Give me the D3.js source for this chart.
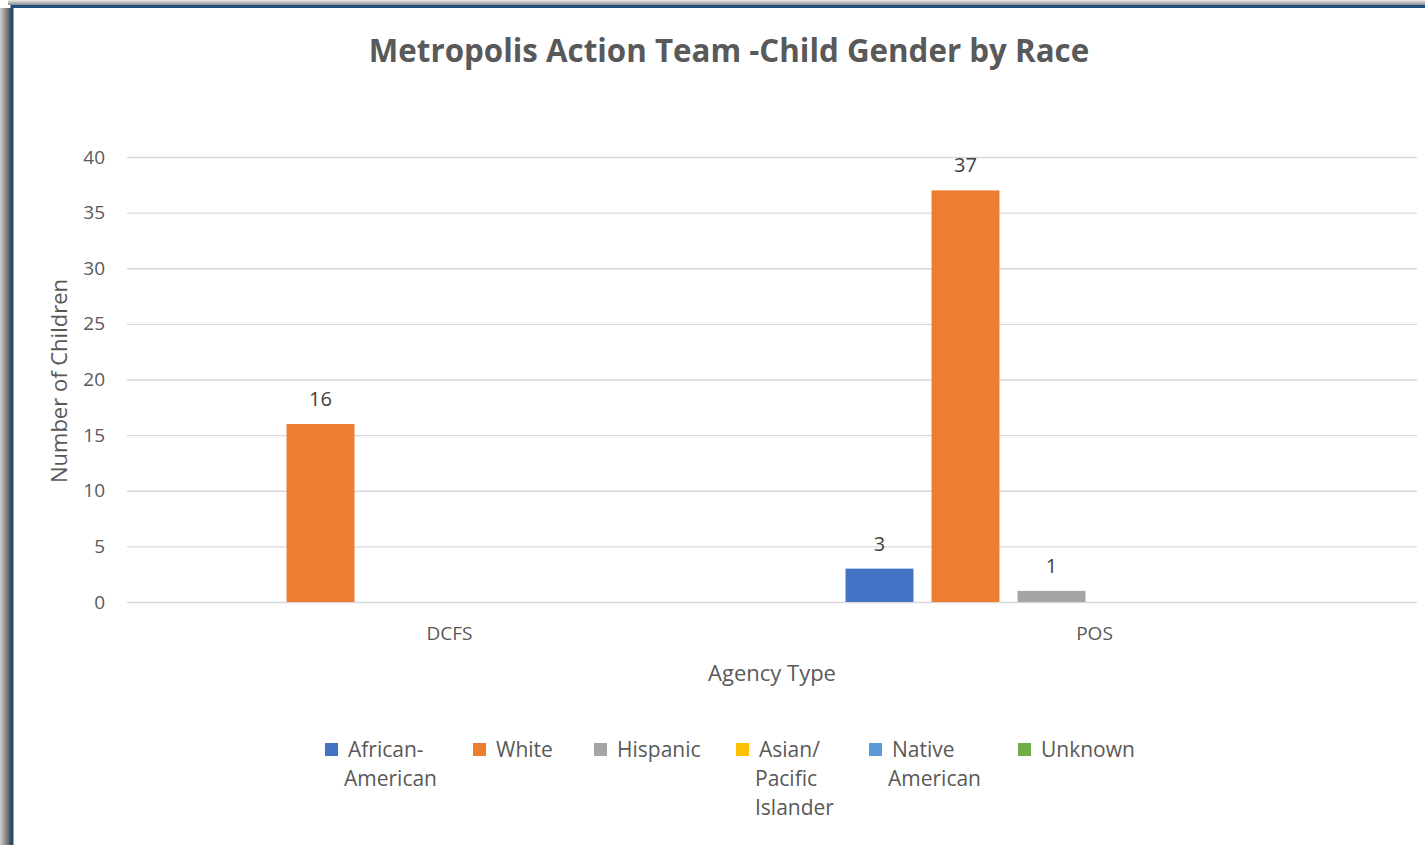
<!DOCTYPE html>
<html>
<head>
<meta charset="utf-8">
<script src="https://cdn.jsdelivr.net/npm/d3@7"></script>
<style>
  html, body { margin: 0; padding: 0; background: #fff; }
  svg { display: block; font-family: "Open Sans", "Noto Sans", sans-serif; }
</style>
</head>
<body>
<svg id="chart" width="1425" height="845"></svg>
<script>
const categories = ["DCFS", "POS"];
const seriesNames = ["African-American", "White", "Hispanic", "Asian/Pacific Islander", "Native American", "Unknown"];
const legendLines = [["African-", "American"], ["White"], ["Hispanic"], ["Asian/", "Pacific", "Islander"], ["Native", "American"], ["Unknown"]];
const seriesColors = ["#4472c4", "#ed7d31", "#a5a5a5", "#ffc000", "#5b9bd5", "#70ad47"];
// values[series][category]; null = no bar
const africanAmerican = [null, 3];
const white = [16, 37];
const hispanic = [null, 1];
const asianPacific = [null, null];
const nativeAmerican = [null, null];
const unknown = [null, null];
const seriesValues = [africanAmerican, white, hispanic, asianPacific, nativeAmerican, unknown];
const yTicks = [0, 5, 10, 15, 20, 25, 30, 35, 40];

const svg = d3.select("#chart");
const defs = svg.append("defs");
const gl = defs.append("linearGradient").attr("id", "shL").attr("x1", 0).attr("x2", 1).attr("y1", 0).attr("y2", 0);
gl.append("stop").attr("offset", "0%").attr("stop-color", "#cfcfcf");
gl.append("stop").attr("offset", "100%").attr("stop-color", "#4a4a4a");
const gt = defs.append("linearGradient").attr("id", "shT").attr("x1", 0).attr("x2", 0).attr("y1", 0).attr("y2", 1);
gt.append("stop").attr("offset", "0%").attr("stop-color", "#ededed");
gt.append("stop").attr("offset", "100%").attr("stop-color", "#8a8a8a");

// frame shadow + border
svg.append("rect").attr("x", 0).attr("y", 0).attr("width", 1425).attr("height", 845).attr("fill", "#fff");
svg.append("rect").attr("x", 0).attr("y", 8).attr("width", 11).attr("height", 845).attr("fill", "url(#shL)");
svg.append("rect").attr("x", 8).attr("y", 0).attr("width", 1425).attr("height", 5).attr("fill", "url(#shT)");
svg.append("rect").attr("x", 12).attr("y", 6.5).attr("width", 1450).attr("height", 900)
  .attr("fill", "#fff").attr("stroke", "#1f4e79").attr("stroke-width", 3);

const plot = { left: 127, right: 1417, top: 157, bottom: 602 };

const y = d3.scaleLinear().domain([0, 40]).range([plot.bottom, plot.top]);
const x0 = d3.scaleBand().domain(categories).range([plot.left, plot.right]).padding(0);
const x1 = d3.scaleBand().domain(d3.range(seriesNames.length)).range([0, x0.bandwidth()])
  .paddingInner(0.21).paddingOuter(0.855);

// title
svg.append("text").attr("x", 729).attr("y", 62).attr("text-anchor", "middle")
  .attr("font-size", 31.3).attr("font-weight", "bold").attr("fill", "#595959")
  .text("Metropolis Action Team -Child Gender by Race");

// gridlines
const yAxis = d3.axisLeft(y).tickValues(yTicks).tickSize(-(plot.right - plot.left)).tickPadding(22);
const gy = svg.append("g").attr("transform", `translate(${plot.left},0)`).call(yAxis);
gy.select(".domain").remove();
gy.selectAll(".tick line").attr("stroke", "#d9d9d9").attr("stroke-width", 1.3);
gy.selectAll(".tick text").attr("font-size", 19).attr("fill", "#595959").attr("font-family", "Open Sans, sans-serif");

// x axis labels
const xAxis = d3.axisBottom(x0).tickSize(0).tickPadding(25);
const gx = svg.append("g").attr("transform", `translate(0,${plot.bottom})`).call(xAxis);
gx.select(".domain").remove();
gx.selectAll(".tick text").attr("font-size", 19).attr("fill", "#595959").attr("font-family", "Open Sans, sans-serif");

// bars
const barData = [];
seriesValues.forEach((vals, si) => vals.forEach((v, ci) => { if (v !== null) barData.push({ si, ci, v }); }));
svg.append("g").selectAll("rect").data(barData).join("rect")
  .attr("x", d => x0(categories[d.ci]) + x1(d.si))
  .attr("width", x1.bandwidth())
  .attr("y", d => y(d.v))
  .attr("height", d => y(0) - y(d.v))
  .attr("fill", d => seriesColors[d.si]);

svg.append("g").selectAll("text").data(barData).join("text")
  .attr("x", d => x0(categories[d.ci]) + x1(d.si) + x1.bandwidth() / 2)
  .attr("y", d => y(d.v) - 18)
  .attr("text-anchor", "middle").attr("font-size", 20).attr("fill", "#404040")
  .text(d => d.v);

// axis titles
svg.append("text").attr("x", 772).attr("y", 681).attr("text-anchor", "middle")
  .attr("font-size", 22).attr("fill", "#595959").text("Agency Type");
svg.append("text").attr("transform", "translate(67,381) rotate(-90)").attr("text-anchor", "middle")
  .attr("font-size", 22).attr("fill", "#595959").text("Number of Children");

// legend
const legendX = [325, 473, 594, 736, 869, 1018];
const lg = svg.append("g").selectAll("g").data(seriesNames).join("g")
  .attr("transform", (d, i) => `translate(${legendX[i]},743)`);
lg.append("rect").attr("width", 13).attr("height", 13).attr("fill", (d, i) => seriesColors[i]);
lg.each(function(d, i) {
  const t = d3.select(this).append("text").attr("font-size", 21).attr("fill", "#595959");
  legendLines[i].forEach((ln, k) => {
    t.append("tspan").attr("x", k === 0 ? 23 : 19).attr("y", 14 + k * 29).text(ln);
  });
});
</script>
</body>
</html>
